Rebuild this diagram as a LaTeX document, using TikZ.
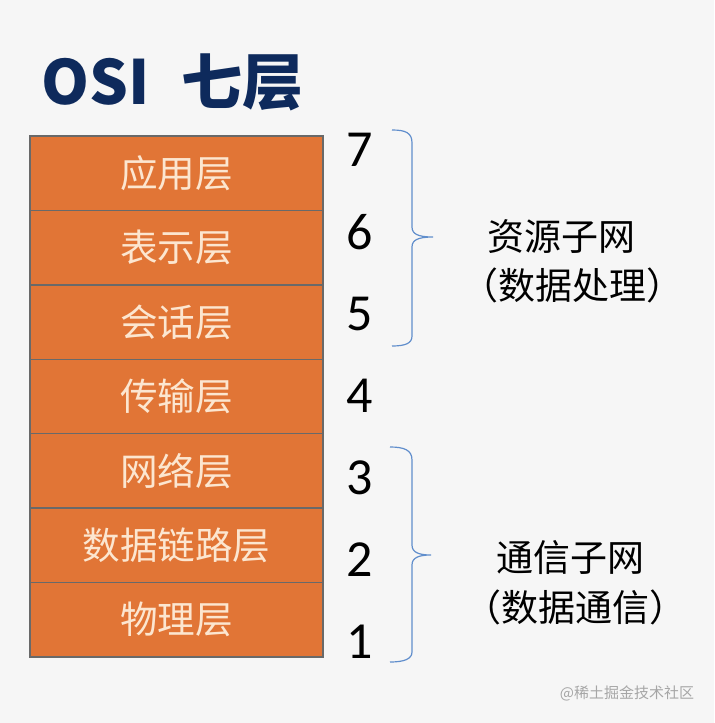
\documentclass[tikz,border=0pt]{standalone}
\usepackage{fontspec}
\usepackage{xcolor}
\setmainfont{Carlito}
\newfontfamily\cjk{Noto Sans CJK SC}
\definecolor{titleblue}{RGB}{14,42,92}
\definecolor{layerfill}{RGB}{225,117,54}
\definecolor{layerline}{RGB}{105,105,105}
\definecolor{layertext}{RGB}{252,230,208}
\definecolor{bracecol}{RGB}{96,142,204}
\definecolor{paper}{RGB}{246,246,246}

\begin{document}
\begin{tikzpicture}[x=0.5pt,y=-0.5pt,
  layer/.style={draw=layerline,line width=0.7pt,fill=layerfill,minimum width=146.5pt,minimum height=37.2pt,inner sep=0pt,text=layertext,font=\cjk\fontsize{18.8}{19}\selectfont},
  num/.style={inner sep=0pt,font=\fontsize{26}{26}\selectfont},
  brace/.style={draw=bracecol,line width=0.6pt},
  netlabel/.style={inner sep=0pt,font=\cjk\fontsize{18.5}{20}\selectfont}]
\fill[paper] (0,0) rectangle (714,723);
\useasboundingbox (0,0) rectangle (714,723);
% title
\node[anchor=base west,inner sep=0pt,text=titleblue,font=\cjk\bfseries\fontsize{30.5}{31}\selectfont] (title) at (41,104) {OSI\hspace{16pt}七层};
% the seven layers, top to bottom
\foreach \t/\n [count=\k from 0] in {应用层/7,表示层/6,会话层/5,传输层/4,网络层/3,数据链路层/2,物理层/1}{
  \node[layer] (L\n) at (176.5,{173.2+74.4*\k}) {\t};
  \node[num] (N\n) at (360,{150+82*\k}) {\n};
}
% braces
\draw[brace] (392,130) .. controls (406,130) and (412,133) .. (412,143) -- (412,227)
  .. controls (412,234) and (418,237) .. (433,237) .. controls (418,237) and (412,240) .. (412,247)
  -- (412,336) .. controls (412,343) and (406,346) .. (392,346);
\draw[brace] (390,447) .. controls (404,447) and (412,450) .. (412,460) -- (412,545)
  .. controls (412,552) and (418,555) .. (431,555) .. controls (418,555) and (412,558) .. (412,565)
  -- (412,652) .. controls (412,659) and (404,662) .. (390,662);
% labels
\node[netlabel] (res) at (561,237) {资源子网};
\node[netlabel] (resnote) at (572,285) {（数据处理）};
\node[netlabel] (com) at (570,557) {通信子网};
\node[netlabel] (comnote) at (575,607) {（数据通信）};
\node[inner sep=0pt,text=black!35,font=\cjk\fontsize{7.5}{8}\selectfont] (mark) at (627,693) {@稀土掘金技术社区};
\end{tikzpicture}
\end{document}
